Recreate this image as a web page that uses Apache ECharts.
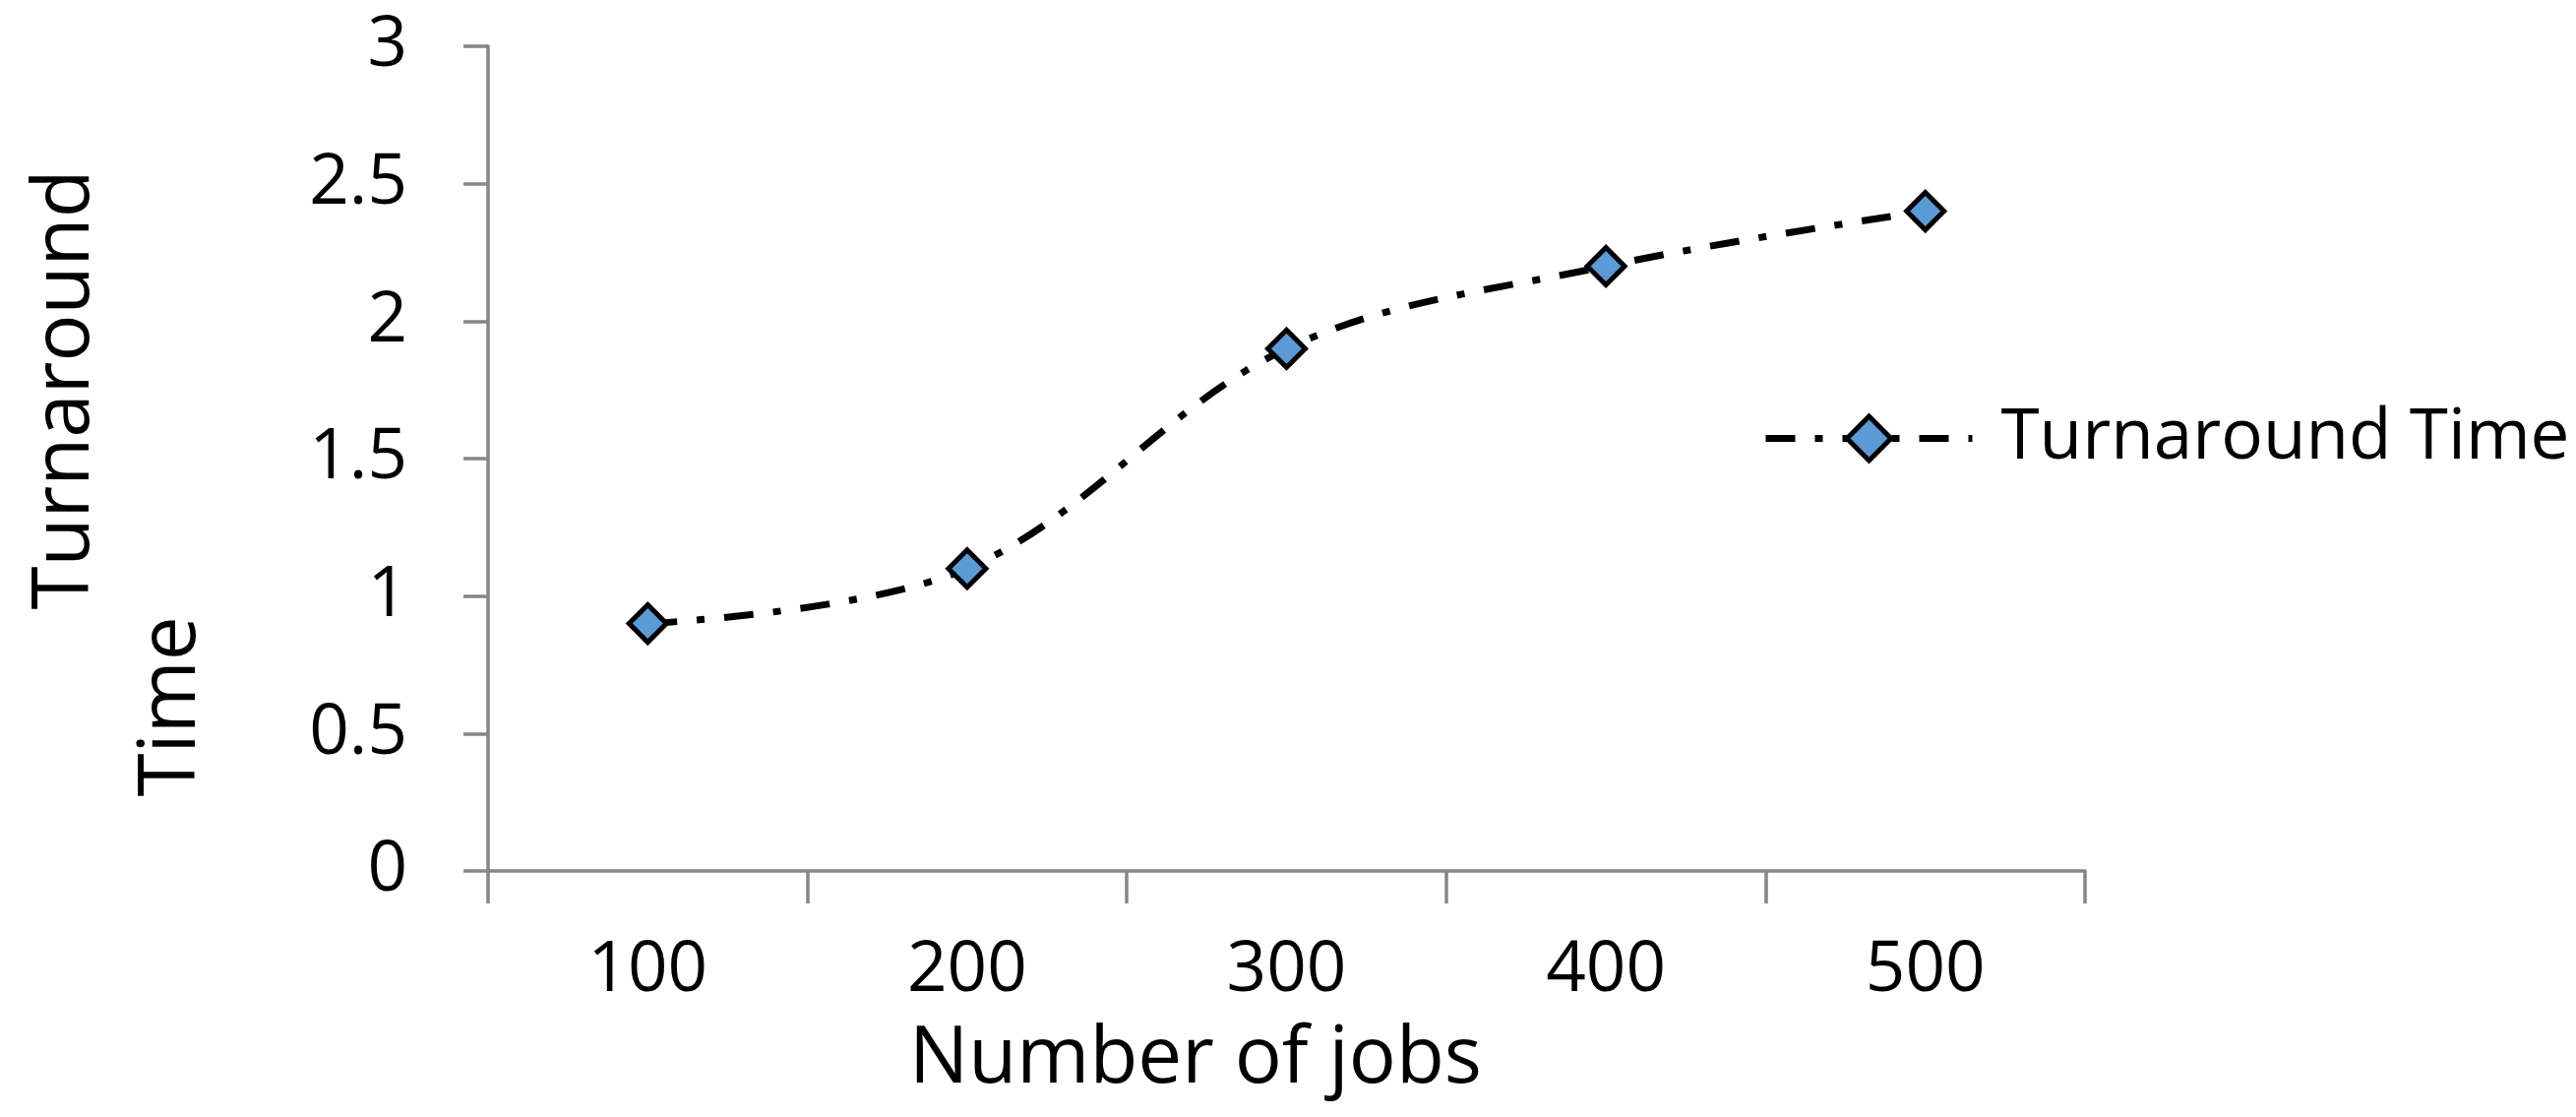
<!DOCTYPE html>
<html>
<head>
<meta charset="utf-8">
<script src="https://cdn.jsdelivr.net/npm/echarts@6/dist/echarts.min.js"></script>
<style>
  html, body { margin: 0; padding: 0; background: #fff; }
  #echart { width: 2618px; height: 1135px; }
</style>
</head>
<body>
<div id="echart"></div>
<script>
var jobs = ['100', '200', '300', '400', '500'];
var turnaround = [0.9, 1.1, 1.9, 2.2, 2.4];
var seriesName = 'Turnaround Time';
var yTitle = ['Turnaround', 'Time'];
var xTitle = 'Number of jobs';

var myChart = echarts.init(document.getElementById('echart'));
var font = 'Open Sans';
var axisGray = '#868686';
var dashDot = [30, 20, 8, 20];

option = {
    backgroundColor: '#ffffff',
    animation: false,
    grid: {
        left: 496,
        right: 499,
        top: 47,
        bottom: 250
    },
    legend: {
        data: [seriesName],
        left: 1786,
        top: 405,
        itemWidth: 210,
        itemHeight: 56,
        lineStyle: { width: 7, type: dashDot, color: '#000' },
        itemStyle: { color: '#5B9BD5', borderColor: '#000', borderWidth: 5 },
        textStyle: {
            fontFamily: font,
            fontSize: 71,
            color: '#000',
            padding: [0, 0, 0, 24]
        }
    },
    xAxis: {
        type: 'category',
        data: jobs,
        boundaryGap: true,
        axisLine: { lineStyle: { color: axisGray, width: 3.5 } },
        axisTick: { show: true, length: 33, lineStyle: { color: axisGray, width: 3.5 } },
        axisLabel: {
            margin: 66,
            fontFamily: font,
            fontSize: 71,
            color: '#000'
        },
        splitLine: { show: false }
    },
    yAxis: {
        type: 'value',
        min: 0,
        max: 3,
        interval: 0.5,
        axisLine: { show: true, lineStyle: { color: axisGray, width: 3.5 } },
        axisTick: { show: true, length: 25, lineStyle: { color: axisGray, width: 3.5 } },
        axisLabel: {
            margin: 82,
            fontFamily: font,
            fontSize: 71,
            color: '#000'
        },
        splitLine: { show: false }
    },
    graphic: [
        {
            type: 'text', x: 67, y: 396, rotation: Math.PI / 2,
            style: { text: yTitle[0], font: '80px "Open Sans"', fill: '#000', align: 'center', verticalAlign: 'middle' }
        },
        {
            type: 'text', x: 175, y: 718, rotation: Math.PI / 2,
            style: { text: yTitle[1], font: '80px "Open Sans"', fill: '#000', align: 'center', verticalAlign: 'middle' }
        },
        {
            type: 'text', x: 1215, y: 1077,
            style: { text: xTitle, font: '80px "Open Sans"', fill: '#000', align: 'center', verticalAlign: 'middle' }
        }
    ],
    series: [
        {
            name: seriesName,
            type: 'line',
            data: turnaround,
            smooth: 0.35,
            symbol: 'diamond',
            symbolSize: 38,
            lineStyle: {
                color: '#000',
                width: 7,
                type: dashDot
            },
            itemStyle: {
                color: '#5B9BD5',
                borderColor: '#000',
                borderWidth: 5
            }
        }
    ]
};
myChart.setOption(option);
</script>
</body>
</html>
